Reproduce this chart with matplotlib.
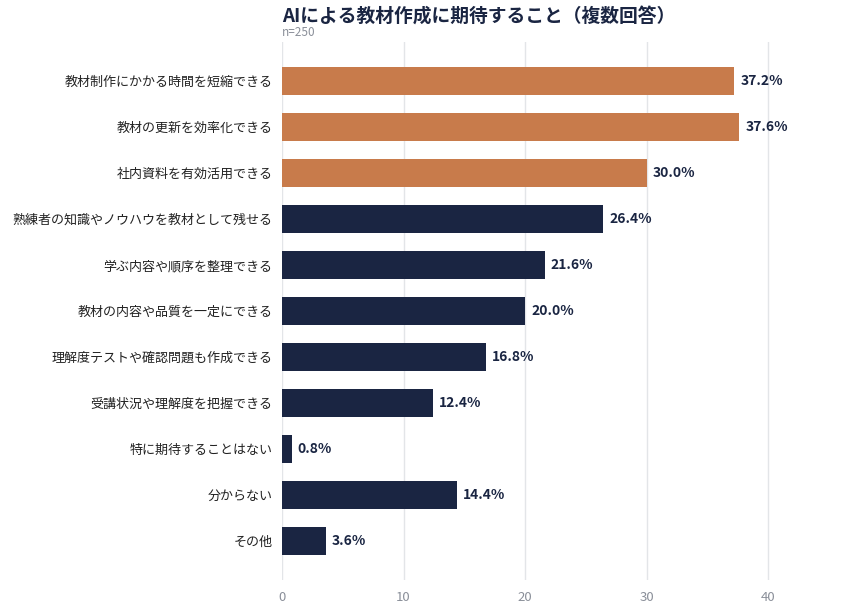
import matplotlib
matplotlib.use("Agg")
import matplotlib.pyplot as plt

plt.rcParams['font.family'] = ['Noto Sans CJK JP', 'DejaVu Sans']

categories = [
    '教材制作にかかる時間を短縮できる',
    '教材の更新を効率化できる',
    '社内資料を有効活用できる',
    '熟練者の知識やノウハウを教材として残せる',
    '学ぶ内容や順序を整理できる',
    '教材の内容や品質を一定にできる',
    '理解度テストや確認問題も作成できる',
    '受講状況や理解度を把握できる',
    '特に期待することはない',
    '分からない',
    'その他',
]
values = [37.2, 37.6, 30.0, 26.4, 21.6, 20.0, 16.8, 12.4, 0.8, 14.4, 3.6]
highlight = [True, True, True] + [False] * 8

ORANGE = '#C87B4B'
NAVY = '#1A2542'

fig = plt.figure(figsize=(8.6, 6.05), dpi=100)
ax = fig.add_axes([282/860, 1 - 580/605, 535/860, 538/605])

ypos = list(range(len(categories)))
colors = [ORANGE if h else NAVY for h in highlight]
ax.barh(ypos, values, height=0.6, color=colors, zorder=2)

for y, v in zip(ypos, values):
    ax.text(v + 0.5, y, '%.1f%%' % v, va='center', ha='left',
            fontsize=10, fontweight='bold', color=NAVY)

ax.set_yticks(ypos)
ax.set_yticklabels(categories, fontsize=9.4, color='#222222')
ax.set_ylim(len(categories) - 1 + 0.85, -0.85)
ax.set_xlim(0, 44)
ax.set_xticks([0, 10, 20, 30, 40])
ax.tick_params(axis='x', colors='#8A8F99', labelsize=9.5, length=0, pad=8)
ax.tick_params(axis='y', length=0, pad=7)
ax.grid(axis='x', color='#E3E5E8', linewidth=1, zorder=0)
for s in ax.spines.values():
    s.set_visible(False)

fig.text(282/860, 1 - 16/605, 'AIによる教材作成に期待すること（複数回答）',
         fontsize=13.5, fontweight='bold', color=NAVY, va='center', ha='left')
fig.text(282/860, 1 - 33/605, 'n=250', fontsize=8.5, color='#8A8F99',
         va='center', ha='left')

fig.savefig('out.png', dpi=100)
